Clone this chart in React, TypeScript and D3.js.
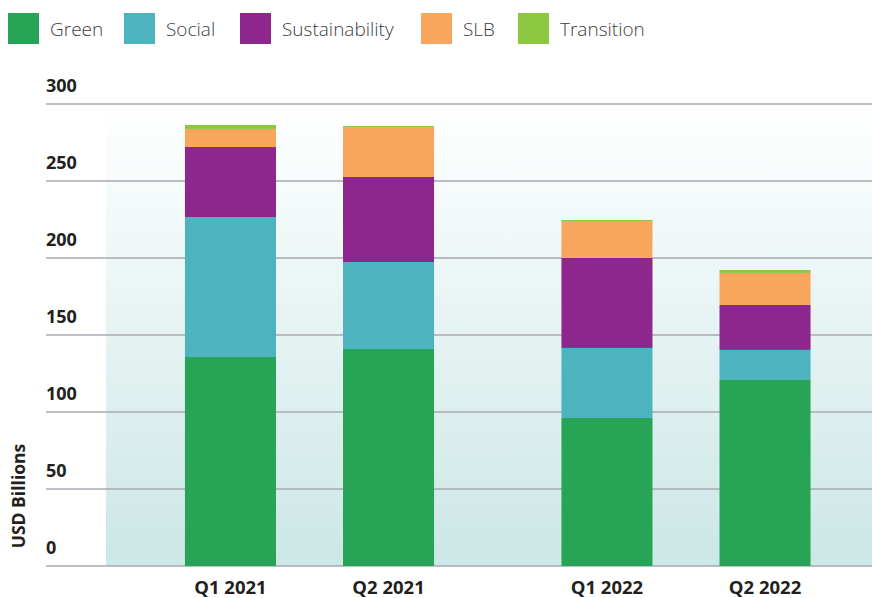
import React from "react";
import * as d3 from "d3";

const groups = ["2021", "2022"];
const quarters = ["Q1", "Q2"];
const categories = ["Q1 2021", "Q2 2021", "Q1 2022", "Q2 2022"];
const seriesNames = ["Green", "Social", "Sustainability", "SLB", "Transition"];
const green = [135.7, 140.9, 96.1, 120.8];
const social = [90.9, 56.5, 45.5, 19.5];
const sustainability = [45.5, 55.2, 58.4, 29.2];
const slb = [11.7, 32.0, 24.0, 20.8];
const transition = [2.6, 1.1, 0.7, 1.9];
const yTicks = [0, 50, 100, 150, 200, 250, 300];
const colors = ["#27a456", "#4db3bf", "#8e278d", "#f8a65e", "#8dc63f"];

const W = 872;
const H = 598;

export default function App() {
  const values = [green, social, sustainability, slb, transition];
  const rows = categories.map((c, i) => {
    const r: any = { category: c, group: c.split(" ")[1], quarter: c.split(" ")[0] };
    seriesNames.forEach((s, k) => (r[s] = values[k][i]));
    return r;
  });
  const stacked = d3.stack<any>().keys(seriesNames)(rows);

  const y = d3.scaleLinear().domain([0, 300]).range([566, 104]);
  const xOuter = d3.scaleBand().domain(groups).range([121.25, 874.25]).padding(0);
  const xInner = d3
    .scaleBand()
    .domain(quarters)
    .range([0, xOuter.bandwidth()])
    .paddingInner(0.424)
    .paddingOuter(0.403);
  const xPos = (r: any) => (xOuter(r.group) as number) + (xInner(r.quarter) as number);
  const bw = xInner.bandwidth();

  const legendX = [8, 124, 240, 421, 518];
  const font = "'Open Sans', 'DejaVu Sans', sans-serif";

  return (
    <svg width={W} height={H} style={{ position: "absolute", left: 0, top: 0, background: "#fff" }}>
      <defs>
        <linearGradient id="bg" x1="0" y1="0" x2="0" y2="1">
          <stop offset="0" stopColor="#ffffff" />
          <stop offset="1" stopColor="#cbe7e6" />
        </linearGradient>
      </defs>
      {seriesNames.map((s, i) => (
        <g key={s}>
          <rect x={legendX[i]} y={13} width={31} height={31} fill={colors[i]} />
          <text
            x={legendX[i] + 42}
            y={36}
            fontFamily={font}
            fontWeight={300}
            fontSize={19}
            fill="#3c3c3c"
          >
            {s}
          </text>
        </g>
      ))}
      <rect x={106} y={106} width={W - 106} height={566 - 106} fill="url(#bg)" />
      {yTicks.map((t) => (
        <g key={t}>
          <line x1={46} x2={W} y1={y(t)} y2={y(t)} stroke="#a8a8b2" strokeWidth={1.6} />
          <text
            x={46}
            y={y(t) - 12}
            fontFamily={font}
            fontWeight={700}
            fontSize={18}
            fill="#231f20"
          >
            {t}
          </text>
        </g>
      ))}
      {stacked.map((layer, k) => (
        <g key={layer.key} fill={colors[k]}>
          {layer.map((d, i) => (
            <rect
              key={i}
              x={xPos(d.data)}
              width={bw}
              y={y(d[1])}
              height={y(d[0]) - y(d[1])}
            />
          ))}
        </g>
      ))}
      {rows.map((r) => (
        <text
          key={r.category}
          x={xPos(r) + bw / 2}
          y={594}
          textAnchor="middle"
          fontFamily={font}
          fontWeight={700}
          fontSize={18.5}
          fill="#231f20"
        >
          {r.category}
        </text>
      ))}
      <text
        transform="translate(25,496) rotate(-90)"
        textAnchor="middle"
        fontFamily={font}
        fontWeight={700}
        fontSize={17.5}
        fill="#231f20"
      >
        USD Billions
      </text>
    </svg>
  );
}
